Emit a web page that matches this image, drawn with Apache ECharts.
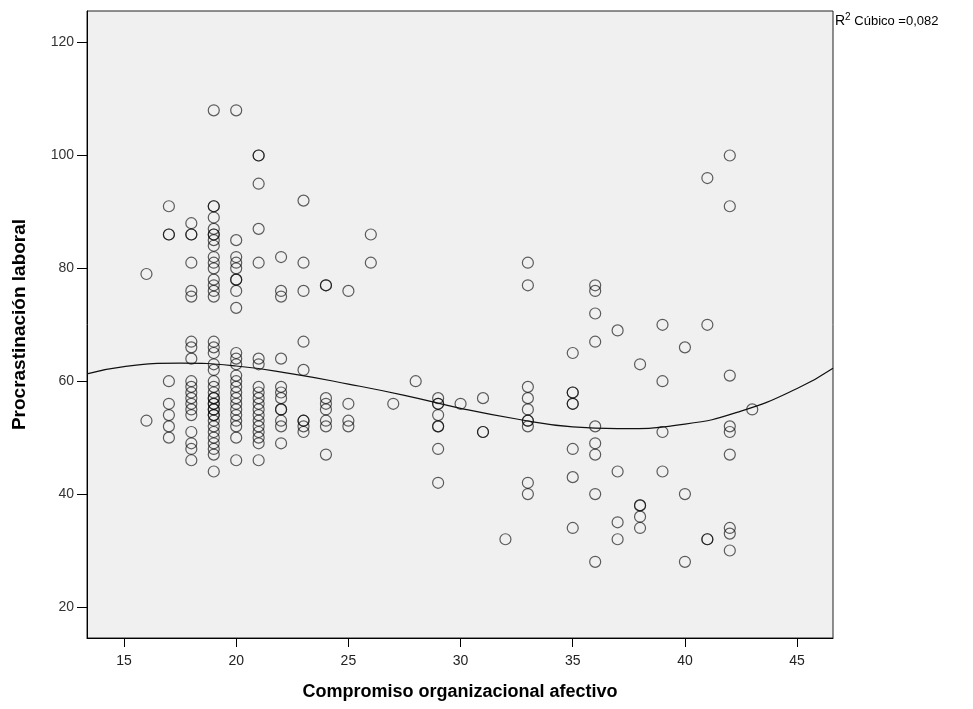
<!DOCTYPE html>
<html>
<head>
<meta charset="utf-8">
<script src="https://cdn.jsdelivr.net/npm/echarts@6/dist/echarts.min.js"></script>
<style>
  html, body { margin: 0; padding: 0; background: #fff; }
  #chart { width: 973px; height: 709px; }
</style>
</head>
<body>
<div id="chart"></div>
<script>
// puntos por columna de x (Compromiso organizacional afectivo)
const xValues = [16, 17, 18, 19, 20, 21, 22, 23, 24, 25, 26, 27, 28, 29, 30, 31, 32, 33, 35, 36, 37, 38, 39, 40, 41, 42, 43];
const yByX = [
  [79, 53],
  [91, 86, 86, 60, 56, 54, 52, 50],
  [88, 86, 86, 81, 76, 75, 67, 66, 64, 60, 59, 58, 57, 56, 55, 54, 51, 49, 48, 46],
  [108, 91, 91, 89, 87, 86, 86, 85, 84, 82, 81, 80, 78, 77, 76, 75, 67, 66, 65, 63, 62, 60, 59, 58, 57, 57, 56, 56, 55, 55, 54, 54, 53, 52, 51, 50, 49, 48, 47, 44],
  [108, 85, 82, 81, 80, 78, 78, 76, 73, 65, 64, 63, 61, 60, 59, 58, 57, 56, 55, 54, 53, 52, 50, 46],
  [100, 100, 95, 87, 81, 64, 63, 59, 58, 57, 56, 55, 54, 53, 52, 51, 50, 49, 46],
  [82, 76, 75, 64, 59, 58, 57, 55, 55, 53, 52, 49],
  [92, 81, 76, 67, 62, 53, 53, 52, 51],
  [77, 77, 57, 56, 55, 53, 52, 47],
  [76, 56, 53, 52],
  [86, 81],
  [56],
  [60],
  [57, 56, 56, 54, 52, 52, 48, 42],
  [56],
  [57, 51, 51],
  [32],
  [81, 77, 59, 57, 55, 53, 53, 52, 42, 40],
  [65, 58, 58, 56, 56, 48, 43, 34],
  [77, 76, 72, 67, 52, 49, 47, 40, 28],
  [69, 44, 35, 32],
  [63, 38, 38, 36, 34],
  [70, 60, 51, 44],
  [66, 40, 28],
  [96, 70, 32, 32],
  [100, 91, 61, 52, 51, 47, 34, 33, 30],
  [55]
];

// curva cúbica
const fitX = [13.35, 15, 17.5, 20, 22.5, 25, 27.5, 30, 32.5, 35, 37, 40, 42.5, 45, 46.6];
const fitY = [61.3, 62.6, 63.2, 62.7, 61.3, 59.5, 57.5, 55.2, 53.3, 51.9, 51.6, 52.4, 54.7, 58.7, 62.3];

const xTicks = [15, 20, 25, 30, 35, 40, 45];
const yTicks = [20, 40, 60, 80, 100, 120];

const points = [];
xValues.forEach((x, i) => {
  yByX[i].forEach(y => points.push([x, y]));
});
const fitLine = fitX.map((x, i) => [x, fitY[i]]);

const chart = echarts.init(document.getElementById('chart'));

const sans = 'Liberation Sans, Arial, sans-serif';

const option = {
  backgroundColor: '#ffffff',
  animation: false,
  grid: {
    left: 87,
    right: 140,
    top: 11,
    bottom: 71,
    containLabel: false,
    outerBoundsMode: 'none',
    show: true,
    backgroundColor: '#f0f0f0',
    borderColor: '#222',
    borderWidth: 1
  },
  xAxis: {
    type: 'value',
    min: 13.35,
    max: 46.6,
    name: 'Compromiso organizacional afectivo',
    nameLocation: 'middle',
    nameMoveOverlap: false,
    nameGap: 45,
    nameTextStyle: {
      fontFamily: sans,
      fontWeight: 'bold',
      fontSize: 18,
      color: '#000'
    },
    axisLine: { show: true, lineStyle: { color: '#000', width: 1 } },
    axisTick: {
      show: true,
      length: 9,
      customValues: xTicks,
      lineStyle: { color: '#000' }
    },
    axisLabel: {
      customValues: xTicks,
      margin: 16,
      fontFamily: sans,
      fontSize: 14,
      color: '#222'
    },
    splitLine: { show: false }
  },
  yAxis: {
    type: 'value',
    min: 14.5,
    max: 125.6,
    name: 'Procrastinación laboral',
    nameLocation: 'middle',
    nameMoveOverlap: false,
    nameGap: 58,
    nameTextStyle: {
      fontFamily: sans,
      fontWeight: 'bold',
      fontSize: 19,
      color: '#000'
    },
    axisLine: { show: true, lineStyle: { color: '#000', width: 1 } },
    axisTick: {
      show: true,
      length: 10,
      customValues: yTicks,
      lineStyle: { color: '#000' }
    },
    axisLabel: {
      customValues: yTicks,
      margin: 13,
      fontFamily: sans,
      fontSize: 14,
      color: '#333'
    },
    splitLine: { show: false }
  },
  series: [
    {
      type: 'scatter',
      data: points,
      symbol: 'circle',
      symbolSize: 11,
      itemStyle: {
        color: 'rgba(0,0,0,0)',
        borderColor: 'rgba(0,0,0,0.78)',
        borderWidth: 1.2
      },
      emphasis: { disabled: true }
    },
    {
      type: 'line',
      data: fitLine,
      smooth: true,
      showSymbol: false,
      symbol: 'none',
      lineStyle: { color: '#111', width: 1.2 },
      emphasis: { disabled: true }
    }
  ],
  graphic: [
    {
      type: 'text',
      left: 835,
      top: 12,
      style: {
        text: '{r|R}{s|2}{t| Cúbico =0,082}',
        rich: {
          r: { fontSize: 14, fontFamily: sans, fill: '#000', verticalAlign: 'bottom' },
          s: { fontSize: 10, fontFamily: sans, fill: '#000', verticalAlign: 'top', padding: [0, 0, 6, 0] },
          t: { fontSize: 13, fontFamily: sans, fill: '#000', verticalAlign: 'bottom' }
        }
      }
    }
  ]
};

chart.setOption(option);
</script>
</body>
</html>
